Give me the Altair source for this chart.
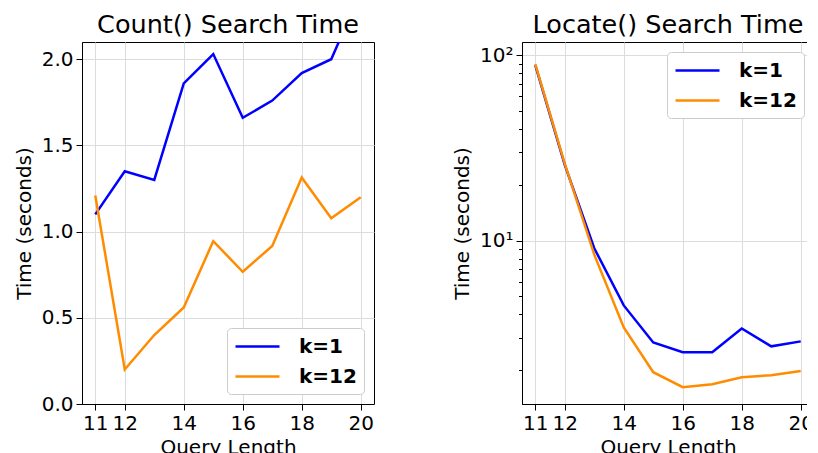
import altair as alt
import pandas as pd

query_len = [11, 12, 13, 14, 15, 16, 17, 18, 19, 20]
count_k1 = [1.10, 1.35, 1.30, 1.86, 2.03, 1.66, 1.76, 1.92, 2.00, 2.39]
count_k12 = [1.21, 0.20, 0.40, 0.56, 0.945, 0.767, 0.917, 1.314, 1.077, 1.199]
locate_k1 = [88.5, 25.6, 9.1, 4.47, 2.82, 2.50, 2.50, 3.36, 2.69, 2.86]
locate_k12 = [89.5, 26.0, 8.4, 3.40, 1.95, 1.62, 1.68, 1.83, 1.88, 1.98]
series = ["k=1", "k=12"]
colors = ["#0000ff", "#ff8c00"]
x_ticks = [11, 12, 14, 16, 18, 20]
count_ticks = [0.0, 0.5, 1.0, 1.5, 2.0]
locate_ticks = [2, 3, 4, 5, 6, 7, 8, 9, 10, 20, 30, 40, 50, 60, 70, 80, 90, 100]

def frame(a, b):
    rows = []
    for i, q in enumerate(query_len):
        rows.append({"q": q, "t": a[i], "s": series[0]})
        rows.append({"q": q, "t": b[i], "s": series[1]})
    return pd.DataFrame(rows)

count_df = frame(count_k1, count_k12)
locate_df = frame(locate_k1, locate_k12)

FONT = "DejaVu Sans"

def legend(orient):
    return alt.Legend(
        title=None, orient=orient, offset=10,
        labelFont=FONT, labelFontSize=20, labelFontWeight="bold", labelColor="black",
        symbolType="M-1,0H3.4", symbolSize=400, symbolStrokeWidth=2.5,
        labelOffset=42, padding=7, rowPadding=8,
        fillColor="white", strokeColor="#cccccc", cornerRadius=4,
    )

x_enc = alt.X("q:Q", title="Query Length",
              scale=alt.Scale(domain=[10.55, 20.45], nice=False, zero=False),
              axis=alt.Axis(values=x_ticks, format="d", tickSize=6, labelPadding=3))

left = alt.Chart(count_df, title="Count() Search Time").mark_line(strokeWidth=2.5, clip=True).encode(
    x=x_enc,
    y=alt.Y("t:Q", title="Time (seconds)",
            scale=alt.Scale(domain=[0, 2.1], nice=False),
            axis=alt.Axis(values=count_ticks, format=".1f", tickSize=6, labelPadding=3, titlePadding=7)),
    color=alt.Color("s:N", scale=alt.Scale(domain=series, range=colors), legend=legend("bottom-right")),
).properties(width=292, height=362)

major = "datum.value == 10 || datum.value == 100"
right = alt.Chart(locate_df, title="Locate() Search Time").mark_line(strokeWidth=2.5, clip=True).encode(
    x=x_enc,
    y=alt.Y("t:Q", title="Time (seconds)",
            scale=alt.Scale(type="log", domain=[1.314, 117.9], nice=False),
            axis=alt.Axis(values=locate_ticks, labelPadding=3, titlePadding=7,
                          labelExpr="datum.value == 100 ? '10²' : (datum.value == 10 ? '10¹' : '')",
                          tickSize={"condition": {"test": major, "value": 6}, "value": 3.5},
                          gridOpacity={"condition": {"test": major, "value": 1}, "value": 0})),
    color=alt.Color("s:N", scale=alt.Scale(domain=series, range=colors), legend=legend("top-right")),
).properties(width=292, height=362)

chart = alt.hconcat(left, right, spacing=77).resolve_scale(color="independent", y="independent").properties(
    padding={"left": 5, "top": 4, "bottom": 5, "right": -8}
).configure_view(
    stroke="black", strokeWidth=1
).configure_axis(
    labelFont=FONT, titleFont=FONT, labelFontSize=20, titleFontSize=20,
    labelColor="black", titleColor="black", titleFontWeight="normal",
    domainColor="black", tickColor="black", gridColor="#dcdcdc", gridWidth=1,
).configure_title(
    font=FONT, fontSize=25.5, fontWeight="normal", color="black", anchor="middle", offset=4
)

chart.save("out.html", embed_options={"renderer": "svg", "actions": False})
